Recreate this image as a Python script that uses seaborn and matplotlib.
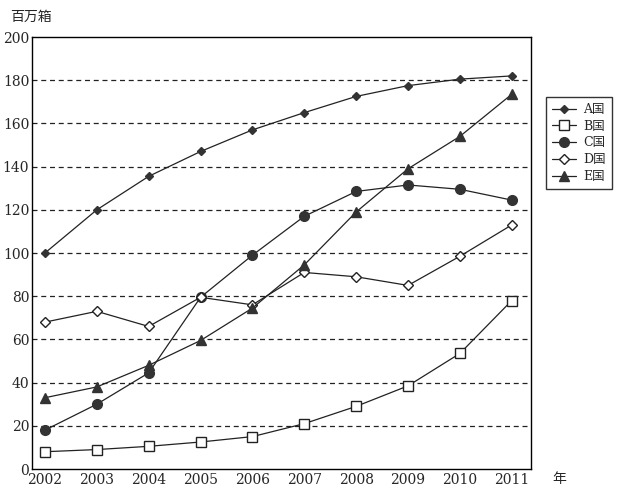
import numpy as np
import pandas as pd
import matplotlib
matplotlib.use("Agg")
import matplotlib.pyplot as plt
import seaborn as sns

# Datos (millones de cajas)
years = [2002, 2003, 2004, 2005, 2006, 2007, 2008, 2009, 2010, 2011]
country_a = [100, 120, 135.5, 147, 157, 165, 172.5, 177.5, 180.5, 182]
country_b = [8, 9, 10.5, 12.5, 15, 21, 29, 38.5, 53.5, 78]
country_c = [18, 30, 44.5, 79.5, 99, 117, 128.5, 131.5, 129.5, 124.5]
country_d = [68, 73, 66, 79.5, 76, 91, 89, 85, 98.5, 113]
country_e = [33, 38, 48, 59.5, 74.5, 94.5, 119, 139, 154, 173.5]
labels = ["A国", "B国", "C国", "D国", "E国"]

sns.set_style("white")
plt.rcParams['font.family'] = ['DejaVu Serif', 'Noto Sans CJK JP']

series = [country_a, country_b, country_c, country_d, country_e]
df = pd.DataFrame({
    "year": years * len(series),
    "value": sum(series, []),
    "country": np.repeat(labels, len(years)),
})

# estilo de marcador por pais
styles = {
    "A国": dict(marker="D", markersize=4.5, markerfacecolor="#333333", markeredgecolor="#333333"),
    "B国": dict(marker="s", markersize=7.5, markerfacecolor="white", markeredgecolor="#222222"),
    "C国": dict(marker="o", markersize=7, markerfacecolor="#333333", markeredgecolor="#333333"),
    "D国": dict(marker="D", markersize=5.5, markerfacecolor="white", markeredgecolor="#222222"),
    "E国": dict(marker="^", markersize=7.5, markerfacecolor="#333333", markeredgecolor="#333333"),
}

fig = plt.figure(figsize=(6.21, 4.91), dpi=100)
ax = fig.add_axes([0.0515, 0.0448, 0.8035, 0.8798])

# lineas de referencia punteadas
for yv in range(20, 200, 20):
    ax.axhline(yv, color="#222222", lw=0.9, ls=(0, (4, 3)), zorder=1)

for name in labels:
    sub = df[df["country"] == name]
    sns.lineplot(data=sub, x="year", y="value", ax=ax, color="#222222", lw=0.9,
                 label=name, zorder=3, markeredgewidth=1.0, **styles[name])

ax.set_xlim(2001.75, 2011.37)
ax.set_ylim(0, 200)
ax.set_xticks(years)
ax.set_yticks(range(0, 201, 20))
ax.tick_params(axis="x", direction="in", length=6, width=1, color="black",
               labelsize=10, pad=3)
ax.tick_params(axis="y", length=0, labelsize=10, pad=2)
ax.set_xlabel("")
ax.set_ylabel("")
for sp in ax.spines.values():
    sp.set_color("black")
    sp.set_linewidth(1.0)

leg = ax.legend(loc="upper left", bbox_to_anchor=(1.03, 0.862), frameon=True,
                fancybox=False, edgecolor="black", fontsize=9, handlelength=1.9,
                borderpad=0.5, labelspacing=0.3, handletextpad=0.6,
                borderaxespad=0)
leg.get_frame().set_linewidth(1.0)

fig.text(0.016, 0.965, "百万箱", fontsize=10, ha="left", va="center")
fig.text(0.89, 0.025, "年", fontsize=10, ha="left", va="center")

fig.savefig("out.png", dpi=100)
